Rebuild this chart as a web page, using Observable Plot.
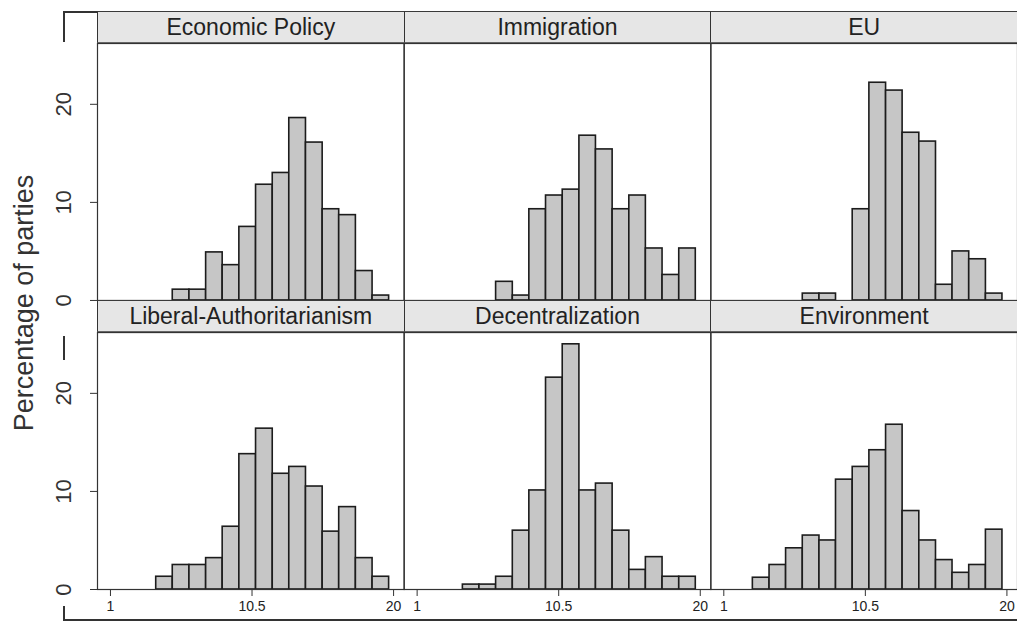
<!DOCTYPE html>
<html>
<head>
<meta charset="utf-8">
<script src="https://cdn.jsdelivr.net/npm/d3@7"></script>
<script src="https://cdn.jsdelivr.net/npm/@observablehq/plot@0.6"></script>
<style>
  html, body { margin: 0; padding: 0; background: #fff; }
  #wrap { position: relative; width: 1017px; height: 624px; overflow: hidden; font-family: "Liberation Sans", Arial, sans-serif; }
  #wrap svg { position: absolute; left: 0; top: 0; }
  .strip { position: absolute; box-sizing: border-box; background: #e6e6e6; border-top: 1.5px solid #3a3a3a; border-bottom: 1px solid #666; border-left: 1px solid #333; border-right: 1px solid #333; display: flex; align-items: center; justify-content: center; font-size: 23px; color: #222; white-space: nowrap; }
  .ylab { position: absolute; font-size: 27px; color: #333; white-space: nowrap; line-height: 1; transform: translate(-50%, -50%) rotate(-90deg); }
  .fr { position: absolute; background: #333; }
</style>
</head>
<body>
<div id="wrap"></div>
<script>
// ---- data ----
const facetNames = ["Economic Policy", "Immigration", "EU", "Liberal-Authoritarianism", "Decentralization", "Environment"];
const binEdges = [2.95, 4.07, 5.18, 6.30, 7.42, 8.53, 9.65, 10.77, 11.89, 13.00, 14.12, 15.24, 16.35, 17.47, 18.59, 19.70];
const economicPolicy          = [0,   0,   1.1, 1.1, 4.9, 3.6, 7.5, 11.8, 13.0, 18.6, 16.1, 9.3,  8.7, 3.0, 0.5];
const immigration             = [0,   0,   0,   1.9, 0.5, 9.3, 10.7, 11.3, 16.8, 15.4, 9.3, 10.7, 5.3, 2.6, 5.3];
const eu                      = [0,   0,   0,   0.7, 0.7, 0,   9.3, 22.2, 21.4, 17.1, 16.2, 1.6, 5.0, 4.2, 0.7];
const liberalAuthoritarianism = [0,   1.3, 2.5, 2.5, 3.2, 6.4, 13.8, 16.4, 11.8, 12.5, 10.5, 5.9, 8.4, 3.2, 1.3];
const decentralization        = [0,   0.5, 0.5, 1.3, 6.0, 10.1, 21.6, 25.0, 10.1, 10.8, 6.0, 2.0, 3.3, 1.3, 1.3];
const environment             = [1.2, 2.5, 4.2, 5.5, 5.0, 11.2, 12.5, 14.2, 16.8, 8.0, 5.0, 3.0, 1.7, 2.5, 6.1];
const xTicks = [1, 10.5, 20];
const yTicks = [0, 10, 20];
const yLabel = "Percentage of parties";

// ---- build tables ----
const series = [economicPolicy, immigration, eu, liberalAuthoritarianism, decentralization, environment];
const bars = [];
series.forEach((vals, k) => {
  vals.forEach((v, i) => {
    if (v > 0) bars.push({facet: facetNames[k], col: k % 3, row: Math.floor(k / 3), x1: binEdges[i], x2: binEdges[i + 1], pct: v});
  });
});
const yTickData = [0, 1].flatMap(row => yTicks.map(t => ({col: 0, row, t})));

// ---- layout ----
const W = 1017, H = 624, ML = 97, MR = 0, MT = 43, MB = 35;
const PAD_Y = 0.111;

const chart = Plot.plot({
  width: W, height: H,
  marginLeft: ML, marginRight: MR, marginTop: MT, marginBottom: MB,
  style: {fontFamily: "'Liberation Sans', Arial, sans-serif", color: "#222", background: "transparent", overflow: "visible"},
  x: {domain: [0.13, 20.71]},
  y: {domain: [0, 26.2]},
  fx: {axis: null, paddingInner: 0, paddingOuter: 0, round: false},
  fy: {axis: null, paddingInner: PAD_Y, paddingOuter: 0, round: false},
  marks: [
    Plot.rectY(bars, {fx: "col", fy: "row", x1: "x1", x2: "x2", y1: 0, y2: "pct", fill: "#c6c6c6", stroke: "#1c1c1c", strokeWidth: 1.6}),
    Plot.frame({stroke: "#333", strokeWidth: 1.2}),
    Plot.axisY({ticks: yTicks, tickSize: 7, tickFormat: () => "", label: null, stroke: "#333"}),
    Plot.text(yTickData, {fx: "col", fy: "row", y: "t", text: d => String(d.t), frameAnchor: "left", dx: -34, rotate: -90, textAnchor: "middle", lineAnchor: "middle", fontSize: 22, fill: "#333"}),
    Plot.axisX({ticks: xTicks, tickSize: 7, tickPadding: 5, fontSize: 14, label: null, tickFormat: d => String(d), stroke: "#333", fill: "#222"})
  ]
});

const wrap = document.getElementById("wrap");
wrap.appendChild(chart);

// strips (facet titles)
const colW = (W - ML - MR) / 3;
const plotH = H - MT - MB;
const step = plotH / (2 - PAD_Y);
const stripH = 32;
facetNames.forEach((name, k) => {
  const col = k % 3, row = Math.floor(k / 3);
  const d = document.createElement("div");
  d.className = "strip";
  d.style.left = (ML + col * colW) + "px";
  d.style.top = (MT + row * step - stripH) + "px";
  d.style.width = (colW + 1) + "px";
  d.style.height = stripH + "px";
  d.textContent = name;
  wrap.appendChild(d);
});

// y title
const yl = document.createElement("div");
yl.className = "ylab";
yl.style.left = "24px";
yl.style.top = "303px";
yl.textContent = yLabel;
wrap.appendChild(yl);

// outer graph-box fragments
[[63, 11, 34, 2], [63, 11, 2, 31], [63, 336, 2, 24], [63, 606, 2, 15], [63, 619, 954, 2]].forEach(([l, t, w, h]) => {
  const f = document.createElement("div");
  f.className = "fr";
  Object.assign(f.style, {left: l + "px", top: t + "px", width: w + "px", height: h + "px"});
  wrap.appendChild(f);
});
</script>
</body>
</html>
